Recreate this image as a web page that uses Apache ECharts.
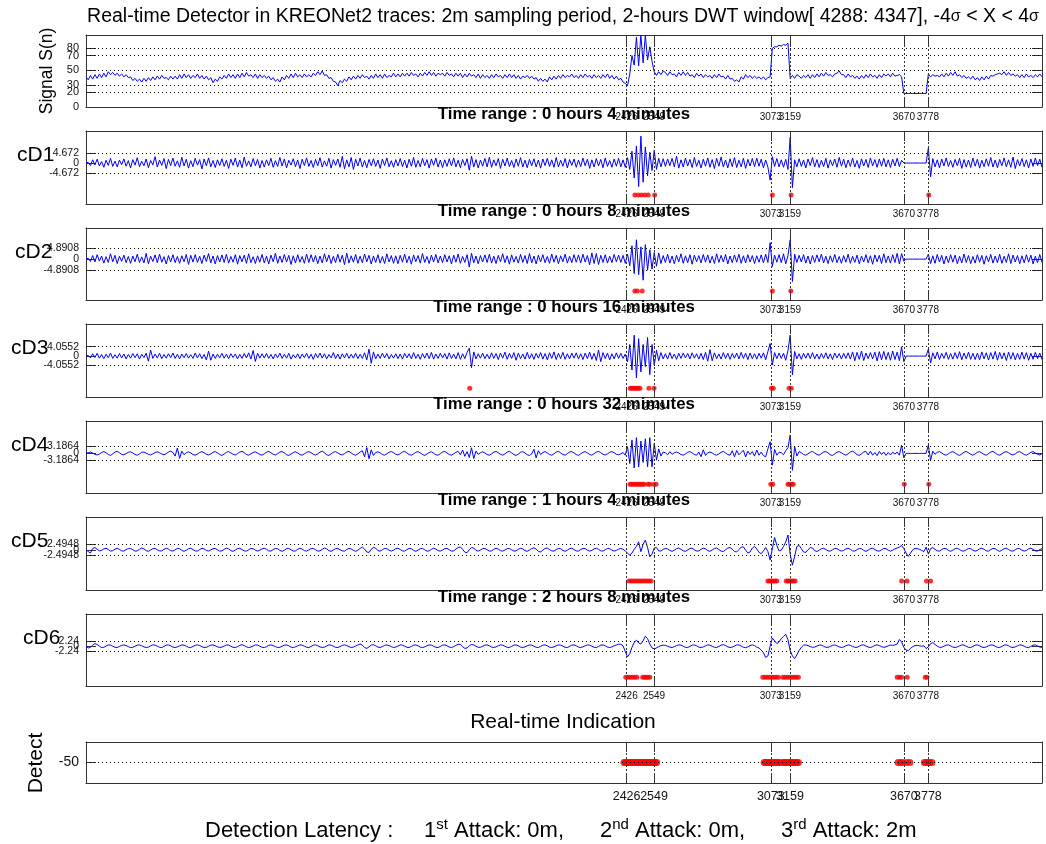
<!DOCTYPE html>
<html><head><meta charset="utf-8">
<script src="https://cdn.jsdelivr.net/npm/echarts@6/dist/echarts.min.js"></script>
<style>html,body{margin:0;padding:0;background:#fff}#c{width:1046px;height:844px}</style>
</head><body><div id="c"></div>
<script>
// ---------------- DATA ----------------
const STEP = 10;                       // sample spacing (time index) of the traces below
const X_MIN = 0, X_MAX = 4290;
const EVENTS = [2426, 2549, 3073, 3159, 3670, 3778];
const SIGNAL_TICKS = [0, 20, 30, 50, 70, 80];
const SIGNAL_GRID = [20, 30, 50, 70, 80];
const THRESH = [4.672, 4.8908, 4.0552, 3.1864, 2.4948, 2.24];
const DOT_LEVEL = [-15, -14.3, -13.8, -13.7, -14.2, -14.4];
const DETECT_LEVEL = -50;
const PANEL_NAMES = ['cD1', 'cD2', 'cD3', 'cD4', 'cD5', 'cD6'];
const PANEL_TITLES = ['Time range : 0 hours 4 mimutes', 'Time range : 0 hours 8 mimutes', 'Time range : 0 hours 16 mimutes',
  'Time range : 0 hours 32 mimutes', 'Time range : 1 hours 4 mimutes', 'Time range : 2 hours 8 mimutes'];

const signal = [
41,37,43,38,44,39,45,40,46,41,48,44,47,43,46,42,45,41,44,40,
41,36,39,35,38,34,39,35,40,36,41,37,42,38,43,39,40,37,42,38,
42,38,44,39,45,40,44,39,43,40,45,39,43,38,42,37,40,33,38,35,
41,38,43,39,45,40,44,39,45,40,46,41,47,42,44,40,45,39,44,40,
43,39,42,37,40,35,38,34,41,37,43,39,45,40,46,41,44,40,45,41,
44,41,46,43,48,44,49,43,44,39,40,35,34,29,36,33,38,35,41,37,
42,38,43,39,44,40,42,38,43,39,45,40,44,39,45,40,43,41,46,41,
45,41,46,42,46,42,47,43,45,41,46,42,47,43,48,43,47,42,46,44,
46,42,47,43,45,41,46,42,46,40,45,41,46,42,44,40,45,39,44,40,
43,39,44,40,45,41,43,39,44,40,45,40,44,39,43,38,42,40,43,39,
42,38,40,35,39,35,38,34,41,37,42,38,43,39,44,40,43,41,45,40,
43,39,44,40,45,41,43,39,44,40,43,39,44,40,45,39,43,38,42,37,
39,34,32,29,45,70,57,95,56,98,60,98,64,82,62,48,43,48,44,49,
47,43,48,44,45,41,47,43,48,43,47,42,44,40,46,42,45,40,44,41,
43,39,44,40,45,41,42,38,43,38,39,35,37,34,41,38,44,40,43,39,
42,39,41,38,41,37,40,41,80,82,82,84,83,85,84,87,39,43,39,44,
42,39,43,40,44,39,44,40,45,41,46,42,47,43,44,41,45,46,49,44,
44,40,45,41,43,39,42,38,43,39,44,40,45,41,43,39,44,40,45,42,
45,41,46,42,43,44,41,18.4,18.4,18.4,18.4,18.4,18.4,18.4,18.4,18.4,18.4,18.4,45,41,
44,42,43,41,45,41,46,42,47,43,48,42,44,40,43,39,41,38,42,37,
40,36,41,37,42,38,43,42,44,45,46,44,48,43,47,43,45,42,44,40,
44,40,45,41,43,40,44,41,45,41];

const cD1 = [
0,0.3,-1.2,1.5,-0.9,1.8,-1.4,0.7,-2.0,1.3,-1.1,2.2,-1.6,0.9,-1.8,1.4,-0.8,1.9,-1.5,1.1,
-2.3,1.6,-1.0,2.5,-1.7,0.8,-1.3,1.9,-2.2,1.2,-0.9,3.0,-1.9,1.4,-1.1,2.1,-2.6,1.7,-1.2,2.3,
-1.5,1.0,-2.0,2.7,-1.4,1.8,-2.4,1.1,-1.7,2.2,-1.0,1.6,-2.8,1.9,-1.3,2.4,-1.8,1.2,-2.1,1.5,
-1.2,2.0,-1.6,1.3,-2.5,1.8,-1.1,2.3,-1.9,1.4,-2.2,2.8,-1.5,1.0,-1.8,2.1,-1.3,1.7,-2.4,1.2,
-1.9,1.5,-1.2,2.2,-2.0,1.1,-1.6,2.6,-1.4,1.9,-2.3,1.3,-1.0,2.0,-1.7,1.4,-2.6,1.8,-1.2,2.4,
-1.6,1.2,-2.1,1.7,-1.3,2.5,-1.9,1.0,-1.5,2.2,-2.4,1.6,-1.1,1.9,-2.0,3.1,-2.7,1.5,-1.8,2.6,
-3.0,1.8,-1.4,2.3,-1.9,1.2,-2.2,1.7,-1.3,2.0,-1.6,1.4,-2.5,1.9,-1.2,2.4,-1.8,1.1,-2.0,1.6,
-1.4,2.1,-1.7,1.3,-2.3,1.8,-1.5,2.6,-2.0,1.2,-1.8,2.2,-1.3,1.6,-2.4,1.9,-1.1,2.3,-1.9,1.4,
-2.1,1.5,-1.6,2.0,-1.4,2.4,-1.8,1.3,-2.2,1.7,-1.2,2.0,-3.4,3.2,-1.9,1.6,-2.3,1.4,-1.5,2.2,
-1.8,2.7,-2.0,1.5,-1.3,2.1,-2.5,1.8,-1.4,2.3,-1.7,1.2,-2.1,1.9,-1.5,2.5,-1.9,1.3,-2.2,1.7,
-1.3,2.0,-1.8,1.4,-2.4,1.9,-1.2,2.2,-1.6,1.5,-2.0,2.6,-1.8,1.3,-1.5,2.1,-2.3,1.6,-1.1,1.9,
-2.0,1.4,-1.7,2.3,-1.3,1.8,-2.5,1.5,-1.9,2.1,-1.4,1.7,-2.2,2.4,-1.6,1.2,-2.0,1.9,-1.5,2.2,
-1.8,1.5,-2.0,2.5,-3.0,5.5,-7.0,8.0,-11.0,12.6,-9.0,7.5,-6.0,5.0,-3.5,6.0,-3.0,2.2,-1.8,2.0,
-1.6,1.9,-1.3,2.2,-1.8,3.2,-2.4,1.5,-1.9,2.3,-1.4,1.7,-2.1,2.6,-1.6,1.3,-2.3,1.8,-1.5,2.4,
-2.0,1.6,-2.6,2.2,-1.5,2.8,-1.9,1.4,-2.3,2.0,-1.7,2.5,-2.1,1.3,-1.8,2.2,-2.5,1.7,-1.4,2.1,
-1.7,2.3,-1.5,1.8,-2.2,1.4,-1.9,-8.0,3.0,-1.6,2.1,-1.8,1.5,-2.0,1.7,-3.0,12.0,-11.5,1.5,-1.8,
2.0,-1.6,1.4,-2.3,1.9,-1.2,2.5,-1.8,1.6,-2.1,1.3,-1.7,2.2,-2.4,1.5,-1.3,1.9,-2.0,2.6,-1.5,
1.8,-2.2,1.4,-1.6,2.3,-1.9,1.2,-2.5,2.0,-1.4,1.7,-2.1,2.4,-1.3,1.6,-2.0,1.9,-1.5,2.2,-1.8,
1.5,-2.1,1.8,-1.4,2.2,-1.7,1.3,0,0,0,0,0,0,0,0,0,0,0,7.0,-6.5,
2.1,-1.8,1.5,-2.3,1.9,-1.4,2.4,-1.6,1.2,-2.0,1.7,-1.3,2.2,-2.5,1.6,-1.9,1.4,-2.1,2.3,-1.5,
1.8,-2.4,1.3,-1.7,2.0,-1.5,2.6,-1.9,1.4,-2.2,1.7,-1.3,2.4,-1.8,1.5,-2.0,2.8,-2.6,1.6,-1.4,
2.1,-1.7,1.5,-2.3,1.9,-1.6,2.4,-1.2,1.8,-2.0];

const cD2 = [
0,0.4,-1.1,1.6,-1.3,2.0,-0.9,1.4,-1.8,1.1,-1.5,2.4,-1.2,1.7,-2.0,1.3,-1.0,1.8,-1.6,1.2,
-1.9,1.4,-1.2,2.2,-1.5,1.0,-1.7,2.6,-2.1,1.3,-1.1,1.9,-1.6,2.3,-1.4,1.1,-2.2,1.6,-1.3,2.0,
-1.6,1.2,-1.9,1.5,-1.2,2.1,-2.4,1.7,-1.3,2.0,-1.5,1.3,-2.0,1.8,-1.1,2.5,-1.7,1.4,-2.2,1.6,
-1.3,1.9,-1.5,2.2,-1.8,1.2,-1.4,2.0,-2.3,1.6,-1.2,1.8,-1.9,2.4,-1.6,1.1,-2.0,1.5,-1.4,2.1,
-1.7,1.3,-2.2,1.8,-1.2,2.6,-1.9,1.4,-1.5,2.1,-1.3,1.7,-2.4,1.5,-1.8,2.0,-1.4,1.2,-1.9,2.3,
-1.5,2.0,-1.3,1.6,-2.1,1.4,-1.7,2.4,-1.2,1.9,-2.0,1.3,-1.6,2.2,-1.4,1.8,-2.5,2.7,-1.8,1.5,
-1.4,2.1,-1.9,1.3,-1.6,2.3,-1.2,1.7,-2.2,1.4,-1.5,2.0,-1.8,1.2,-2.0,2.4,-1.3,1.6,-1.9,1.5,
-2.1,1.7,-1.4,2.2,-1.6,1.3,-2.3,1.9,-1.2,1.6,-1.8,2.5,-1.5,1.2,-2.0,1.8,-1.3,2.1,-1.7,1.4,
-1.6,2.0,-1.3,1.5,-2.2,1.8,-1.4,2.3,-1.9,1.2,-1.5,2.0,-3.6,2.6,-1.7,1.4,-2.1,1.6,-1.3,1.9,
-1.5,2.2,-1.8,1.3,-2.0,1.7,-1.2,2.4,-1.6,1.5,-2.3,1.9,-1.4,1.2,-1.8,2.1,-1.5,1.6,-2.0,2.5,
-1.7,1.4,-2.2,1.8,-1.3,2.0,-1.6,1.2,-1.9,2.3,-1.4,1.7,-2.1,1.5,-1.2,2.2,-1.8,1.3,-1.6,2.0,
-1.4,1.9,-1.7,2.2,-1.3,1.6,-2.6,2.8,-2.0,2.5,-2.4,1.7,-1.5,2.0,-1.8,1.3,-1.6,2.1,-1.2,1.8,
-1.5,1.7,-1.9,2.3,-3.0,6.0,-6.5,8.7,-7.0,5.5,-9.5,6.5,-5.0,4.2,-4.5,3.0,-3.2,2.8,-2.0,1.6,
-1.5,2.2,-1.8,1.4,-2.1,1.7,-1.3,2.4,-1.9,1.5,-1.6,2.0,-2.3,1.8,-1.2,1.6,-1.7,2.1,-1.4,1.9,
-1.8,1.3,-2.0,2.4,-1.5,1.7,-1.3,2.1,-2.2,1.4,-1.6,1.9,-1.4,2.2,-1.9,1.5,-1.7,2.0,-1.3,1.6,
-2.0,1.5,-1.4,1.9,-1.7,2.2,-1.5,7.4,-3.3,1.8,-1.4,2.0,-1.6,2.4,-2.1,1.5,8.7,-10.1,2.2,-1.5,
1.7,-1.3,2.0,-1.8,1.4,-2.2,1.6,-1.5,1.9,-1.2,2.3,-1.7,1.3,-2.0,1.5,-1.4,2.1,-1.6,1.2,-1.9,
1.6,-1.4,2.2,-1.9,1.3,-1.5,1.8,-2.1,1.4,-1.3,2.0,-1.7,1.5,-2.3,1.9,-1.2,1.7,-2.0,2.4,-1.6,
1.4,-1.8,2.0,-1.5,2.6,-2.2,2.5,-1.0,0,0,0,0,0,0,0,0,0,0,2.2,-2.0,
1.5,-1.9,2.1,-1.3,1.7,-2.2,1.4,-1.6,2.0,-1.4,1.8,-2.1,1.3,-1.7,2.3,-1.5,1.6,-2.0,1.2,-1.8,
2.0,-1.4,1.7,-2.3,1.5,-1.2,2.1,-1.8,1.4,-1.6,2.2,-1.9,1.3,-1.5,2.4,-2.0,1.8,-1.3,1.6,-2.1,
1.5,-1.7,2.0,-1.4,1.8,-2.2,1.3,-1.6,2.1,-1.5];

const cD3 = [
0,0.3,-0.8,1.0,-0.6,1.2,-0.9,0.7,-1.1,0.8,-0.7,1.3,-1.0,0.6,-0.9,1.1,-0.8,0.9,-1.2,0.7,
-0.9,1.1,-0.7,1.0,-1.3,0.8,-0.6,1.2,-2.2,2.6,-1.0,0.9,-0.8,1.2,-1.1,0.7,-0.9,1.0,-0.7,1.3,
-1.0,0.8,-1.2,0.9,-0.7,1.1,-0.9,0.6,-1.0,1.3,-0.8,1.0,-1.1,0.7,-1.6,2.1,-1.8,0.9,-1.0,0.8,
-0.7,1.2,-0.9,0.8,-1.1,1.0,-0.6,0.9,-1.2,0.7,-1.0,1.1,-0.8,1.4,-1.3,2.4,-2.3,1.2,-0.9,1.0,
-0.8,1.1,-1.0,0.7,-1.2,0.9,-0.7,1.3,-1.0,0.8,-0.9,1.2,-1.3,0.6,-0.8,1.0,-1.1,0.9,-0.7,1.2,
-1.0,0.8,-1.4,1.1,-0.7,1.3,-0.9,1.0,-1.2,0.7,-0.8,1.5,-1.1,0.9,-1.3,1.0,-0.8,1.2,-1.0,0.8,
-0.9,1.2,-1.1,0.8,-1.0,1.4,-1.6,3.0,-3.1,1.8,-1.2,0.9,-1.0,1.3,-0.8,1.1,-1.2,0.7,-0.9,1.0,
-1.1,0.9,-1.3,1.2,-0.8,1.0,-1.2,1.5,-1.0,0.8,-1.4,1.1,-0.9,1.3,-1.1,1.6,-1.3,0.9,-1.0,1.2,
-0.8,1.1,-1.3,1.4,-1.0,0.9,-1.2,1.5,-1.4,1.0,-1.1,1.6,3.4,-5.0,1.8,-1.2,1.0,-0.9,1.3,-1.1,
0.8,-1.2,1.4,-1.0,1.1,-1.5,1.3,-0.9,1.7,-1.4,1.2,-1.0,1.5,-1.8,1.3,-1.1,0.9,-1.3,1.6,-1.2,
1.0,-1.4,1.2,-0.9,1.5,-1.3,1.1,-1.6,1.4,-1.0,1.8,-1.5,1.2,-1.1,1.6,-1.4,1.0,-1.2,1.3,-0.9,
1.4,-1.2,1.0,-1.5,1.3,-1.1,1.7,-1.4,1.2,-1.9,2.6,-2.4,1.5,-1.1,1.3,-1.6,1.0,-1.2,1.4,-1.0,
1.2,-1.0,0.9,-2.5,5.0,-6.0,9.0,-9.4,7.5,-6.8,5.0,-4.5,8.0,-8.0,5.0,-4.0,2.5,-2.0,1.5,-1.2,
1.0,-1.3,1.5,-1.1,0.9,-1.4,1.2,-1.0,1.3,-0.8,1.1,-1.2,1.4,-0.9,1.0,-1.3,1.2,-1.5,1.6,-2.2,
2.8,-2.0,1.4,-1.1,0.9,-1.3,1.5,-1.0,1.2,-1.4,1.1,-0.9,1.3,-1.2,1.6,-1.0,1.2,-1.5,1.3,-1.1,
1.0,-1.3,1.2,-0.9,1.4,-1.6,2.0,5.4,-3.8,1.5,-1.1,1.3,-1.0,1.2,-1.8,2.4,9.0,-8.1,2.0,-1.2,
1.0,-1.4,1.2,-0.9,1.3,-1.1,1.5,-1.2,0.9,-1.3,1.1,-1.0,1.4,-1.2,1.0,-1.5,1.3,-0.8,1.1,-1.3,
1.2,-1.0,1.4,-1.3,1.8,-2.0,1.6,-1.4,2.2,-1.9,1.3,-1.1,1.5,-1.2,1.7,-2.1,1.9,-1.6,2.0,-1.5,
1.6,-1.8,2.2,-1.5,1.7,-2.0,4.0,-2.4,0,0,0,0,0,0,0,0,0,0,3.0,-3.0,
1.4,-1.2,1.8,-1.5,1.2,-1.0,1.6,-1.4,1.1,-1.3,1.5,-1.1,1.9,-1.6,1.3,-1.2,1.7,-1.4,1.2,-1.5,
1.3,-1.6,1.8,-1.2,1.4,-1.7,1.5,-1.3,2.0,-1.8,1.6,-1.2,1.4,-1.9,1.7,-1.3,1.5,-1.6,1.2,-1.4,
1.7,-1.3,1.5,-1.8,1.2,-1.4,1.6,-1.1,1.3,-1.5];

const cD4 = [
0,0.3,0.6,0.2,-0.4,-0.7,-0.3,0.4,0.8,0.3,-0.5,-0.9,-0.2,0.6,0.9,0.3,-0.4,-0.6,-0.1,0.5,
0.7,0.2,-0.5,-0.8,-0.2,0.5,0.6,0.1,-0.4,-0.7,-0.2,0.4,0.7,0.3,-0.3,-0.6,-0.1,0.6,1.0,0.4,
-1.2,2.4,-2.2,1.0,-0.6,0.3,0.7,0.2,-0.5,-0.8,-0.3,0.4,0.8,0.3,-0.4,-0.7,-0.2,0.5,0.8,0.2,
-0.5,-0.9,-0.3,0.5,0.8,0.2,-0.4,-0.7,-0.1,0.6,0.9,0.3,-0.5,-0.8,-0.2,0.4,0.7,0.1,-0.5,-0.8,
-0.2,0.5,0.9,0.3,-0.4,-0.7,-0.1,0.6,0.8,0.2,-0.6,-0.9,-0.3,0.4,0.7,0.2,-0.5,-0.8,-0.2,0.5,
0.8,0.3,-0.4,-0.7,-0.2,0.6,1.0,0.3,-0.6,-0.9,-0.2,0.5,0.8,0.2,-0.4,-0.7,-0.1,0.6,0.9,0.2,
-0.5,-0.8,-0.2,0.6,1.2,-1.5,2.6,-2.4,1.6,-0.9,0.4,0.7,0.2,-0.5,-0.8,-0.2,0.5,0.8,0.3,-0.4,
-0.7,-0.1,0.6,0.9,0.2,-0.5,-0.8,-0.2,0.5,0.8,0.2,-0.5,-0.9,-0.3,0.4,0.7,0.1,-0.6,-0.8,-0.1,
0.6,0.9,0.2,-0.5,-0.8,-0.2,0.5,0.9,-0.6,1.5,-1.3,0.8,-1.8,2.5,-2.3,1.0,-0.4,0.3,0.7,0.2,
-0.5,-0.8,-0.2,0.5,0.9,0.3,-0.4,-0.8,-0.2,0.6,0.9,0.2,-0.5,-0.9,-0.3,0.5,0.8,0.2,-0.6,-0.9,
-0.2,1.8,-2.0,1.2,-0.5,0.4,0.8,0.2,-0.5,-0.8,-0.2,0.6,0.9,0.2,-0.5,-0.8,-0.1,0.6,0.8,0.2,
-0.5,-0.9,-0.2,0.5,0.8,0.2,-0.5,-0.8,-0.1,0.6,0.9,0.3,-0.4,-0.7,-0.2,0.5,0.8,0.3,-0.4,-0.6,
-0.2,0.4,-0.8,3.0,-4.5,6.0,-6.5,7.0,-6.0,5.5,-4.0,6.5,-6.0,7.0,-6.0,4.5,-3.0,2.0,-1.2,0.6,
0.3,-0.6,0.8,-0.4,0.3,0.6,0.2,-0.5,-0.8,-0.2,0.5,0.8,0.2,-0.5,-0.8,0.6,-1.5,1.6,-0.9,0.3,
0.6,0.2,-0.5,-0.8,-0.2,0.5,0.9,0.2,-0.5,-0.8,1.2,-1.5,1.3,-0.6,0.4,1.4,-1.6,1.0,-0.5,0.8,
-1.2,1.5,-0.8,0.6,-1.0,-1.5,2.0,5.2,-5.2,1.8,-0.8,0.5,0.3,-0.6,1.2,2.5,8.2,-7.5,3.0,-1.2,
0.8,0.3,-0.5,-0.8,-0.2,0.5,0.9,0.2,-0.5,-0.8,-0.1,0.6,0.8,0.2,-0.6,-0.9,-0.2,0.5,0.8,0.3,
-0.4,-0.8,-0.2,0.6,1.0,0.3,-0.5,-0.9,-0.2,0.6,0.9,-0.7,1.0,-0.8,0.4,-1.0,0.9,-0.5,0.6,-0.9,
0.4,-0.7,0.5,-0.3,0.6,-0.8,3.7,-2.0,0,0,0,0,0,0,0,0,0,0,3.7,-3.0,
1.0,-0.4,0.5,0.8,0.2,-0.5,-0.8,-0.2,0.5,0.8,0.2,-0.5,-0.9,-0.2,0.5,0.9,0.3,-0.4,-0.8,-0.2,
0.5,0.8,0.2,-0.5,-0.8,-0.1,0.6,0.9,0.2,-0.5,-0.8,-0.2,0.5,0.8,0.3,-0.4,-0.7,-0.2,0.5,0.8,
0.2,-0.5,-0.8,-0.2,0.5,0.8,0.2,-0.4,-0.7,-0.1];

const cD5 = [
0,-0.8,-1.5,0.6,1.0,0.2,-0.5,-0.3,0.4,0.7,0.1,-0.6,-0.4,0.3,0.6,0.2,-0.5,-0.6,0.1,0.5,
0.6,0.0,-0.6,-0.5,0.2,0.8,0.4,-0.4,-0.7,-0.1,0.5,0.6,0.0,-0.5,-0.5,0.2,0.7,0.3,-0.4,-0.6,
0.0,0.6,0.5,-0.3,-0.7,-0.2,0.5,0.7,0.1,-0.5,-0.6,0.1,0.6,0.4,-0.3,-0.6,-0.1,0.5,0.6,0.0,
-0.6,-0.5,0.2,0.7,0.4,-0.4,-0.7,-0.1,0.5,0.7,0.1,-0.5,-0.6,0.0,0.6,0.5,-0.2,-0.6,-0.2,0.4,
0.7,0.2,-0.5,-0.6,0.1,0.6,0.5,-0.3,-0.7,-0.2,0.5,0.6,0.0,-0.6,-0.5,0.2,0.7,0.3,-0.4,-0.6,
-0.1,0.5,0.6,0.0,-0.6,-0.5,0.2,0.8,0.4,-0.4,-0.7,-0.1,0.5,0.6,0.0,-0.5,-0.6,0.1,0.6,0.4,
-0.3,-0.7,-0.2,0.6,1.2,0.3,-1.0,-1.2,0.2,1.1,0.7,-0.4,-0.6,0.0,0.6,0.5,-0.2,-0.6,-0.2,0.5,
0.7,0.1,-0.5,-0.6,0.1,0.6,0.5,-0.3,-0.7,-0.2,0.5,0.6,0.0,-0.6,-0.5,0.2,0.7,0.3,-0.4,-0.6,
-0.1,0.5,0.6,0.0,-0.6,-0.5,0.3,1.0,1.3,0.2,-1.1,-1.3,0.0,1.0,0.8,-0.3,-0.6,-0.1,0.5,0.6,
0.0,-0.6,-0.5,0.2,0.7,0.3,-0.4,-0.6,-0.1,0.5,0.6,0.0,-0.6,-0.5,0.2,0.7,0.4,-0.4,-0.7,-0.1,
0.5,0.9,0.3,-0.7,-1.0,-0.2,0.6,0.8,0.1,-0.5,-0.6,0.1,0.6,0.5,-0.3,-0.7,-0.2,0.5,0.7,0.1,
-0.5,-0.6,0.1,0.6,0.5,-0.2,-0.6,-0.3,0.4,0.7,0.2,-0.5,-0.6,0.0,0.6,0.5,-0.2,-0.6,-0.3,0.3,
0.6,0.2,-0.5,-1.5,-2.4,-1.5,0.2,1.5,3.6,-0.9,2.5,4.4,1.0,-3.2,-2.0,0.8,1.0,-0.5,-0.6,0.2,
0.6,0.4,-0.3,-0.7,-0.2,0.5,0.8,0.2,-0.5,-0.7,-0.1,0.6,0.7,0.0,-0.6,-0.5,0.2,0.8,0.4,-0.4,
-0.7,-0.1,0.6,0.8,0.1,-0.6,-0.8,0.0,0.8,1.0,0.2,-0.8,-1.0,0.1,1.2,1.3,-0.2,-1.5,-1.0,0.8,
1.5,0.4,-1.2,-1.8,-0.5,1.0,-0.8,-4.7,0.5,5.6,2.0,-0.5,-0.2,1.5,3.5,6.7,-2.0,-7.0,-3.0,1.5,
2.0,0.5,-1.0,-1.2,0.0,1.0,0.8,-0.4,-0.8,-0.2,0.5,0.7,0.1,-0.5,-0.6,0.0,0.6,0.5,-0.2,-0.6,
-0.3,0.4,0.7,0.2,-0.5,-0.6,0.1,0.6,0.5,-0.3,-0.7,-0.2,0.5,0.7,0.1,-0.5,-0.6,0.0,0.6,0.5,
-0.2,-0.6,-0.2,0.4,0.8,1.2,2.0,0.5,-1.5,-3.0,-1.5,0.0,0.6,0.5,0.2,-0.3,-0.8,1.2,-2.0,0.5,
1.0,0.2,-0.5,-0.6,0.1,0.6,0.5,-0.3,-0.7,-0.2,0.5,0.7,0.1,-0.5,-0.6,0.0,0.6,0.5,-0.2,-0.6,
-0.3,0.4,0.7,0.2,-0.5,-0.6,0.1,0.6,0.5,-0.3,-0.7,-0.2,0.5,0.7,0.1,-0.5,-0.6,0.0,0.6,0.5,
-0.2,-0.6,-0.3,0.4,0.7,0.2,-0.5,-0.6,0.1,0.5];

const cD6 = [
0,-0.8,-0.5,0.5,1.2,0.8,0.0,-0.6,-0.5,0.1,0.6,0.5,0.0,-0.5,-0.6,-0.1,0.4,0.6,0.3,-0.2,
-0.6,-0.5,0.0,0.5,0.6,0.2,-0.3,-0.6,-0.4,0.2,0.6,0.5,0.0,-0.5,-0.6,-0.1,0.5,0.6,0.2,-0.4,
-0.6,-0.3,0.2,0.6,0.5,0.0,-0.5,-0.6,-0.1,0.4,0.6,0.3,-0.2,-0.6,-0.5,0.0,0.5,0.6,0.2,-0.3,
-0.6,-0.4,0.1,0.6,0.5,0.0,-0.5,-0.6,-0.2,0.4,0.7,0.3,-0.3,-0.6,-0.4,0.1,0.6,0.5,0.0,-0.5,
-0.6,-0.2,0.4,0.6,0.3,-0.2,-0.6,-0.5,0.0,0.5,0.6,0.2,-0.4,-0.6,-0.3,0.2,0.6,0.5,0.0,-0.5,
-0.6,-0.1,0.5,0.6,0.2,-0.3,-0.6,-0.4,0.1,0.6,0.5,0.0,-0.5,-0.6,-0.2,0.4,0.6,0.3,-0.2,-0.6,
-0.4,0.1,0.6,1.0,0.5,-0.6,-1.0,-0.3,0.5,0.7,0.2,-0.4,-0.6,-0.2,0.4,0.6,0.3,-0.2,-0.6,-0.4,
0.1,0.6,0.5,0.0,-0.5,-0.6,-0.1,0.5,0.6,0.2,-0.4,-0.6,-0.3,0.2,0.6,0.5,0.0,-0.5,-0.6,-0.1,
0.5,0.6,0.2,-0.4,-0.6,-0.2,0.4,0.9,0.8,-0.2,-1.0,-0.8,0.2,0.8,0.6,0.0,-0.5,-0.5,0.0,0.5,
0.6,0.2,-0.4,-0.6,-0.3,0.2,0.6,0.5,0.0,-0.5,-0.6,-0.1,0.5,0.6,0.2,-0.4,-0.6,-0.3,0.2,0.6,
0.5,0.0,-0.5,-0.6,-0.1,0.5,0.6,0.2,-0.4,-0.6,-0.3,0.2,0.6,0.5,0.0,-0.5,-0.6,-0.1,0.5,0.6,
0.2,-0.4,-0.6,-0.3,0.2,0.6,0.5,0.0,-0.5,-0.6,-0.1,0.5,0.6,0.2,-0.4,-0.6,-0.3,0.2,0.6,0.9,
0.9,0.2,-2.5,-4.9,-3.5,-0.5,1.8,2.8,1.5,1.0,2.5,4.6,3.5,1.0,-0.8,-1.2,-0.8,-0.2,0.3,0.5,
0.4,0.0,-0.4,-0.6,-0.2,0.3,0.6,0.5,0.0,-0.5,-0.6,-0.1,0.5,0.6,0.2,-0.4,-0.6,-0.3,0.2,0.6,
0.5,0.0,-0.5,-0.6,-0.1,0.5,0.7,0.3,-0.3,-0.6,-0.4,0.1,0.6,0.6,0.1,-0.5,-0.7,-0.3,0.3,0.6,
0.3,-0.4,-0.8,-1.8,-3.0,-5.2,-4.5,0.0,3.8,2.5,1.2,2.0,3.5,4.5,5.5,3.0,-2.0,-4.5,-5.7,-4.0,
-2.0,-0.5,0.5,0.6,0.3,-0.2,-0.5,-0.4,0.1,0.5,0.5,0.0,-0.5,-0.5,-0.1,0.4,0.6,0.2,-0.3,-0.6,
-0.3,0.2,0.6,0.4,-0.1,-0.5,-0.5,0.0,0.5,0.6,0.1,-0.4,-0.6,-0.2,0.4,0.6,0.3,-0.2,-0.5,-0.3,
0.2,0.5,0.4,0.6,1.0,3.1,2.0,-0.5,-1.8,-2.0,-1.0,-0.2,0.3,0.4,0.2,0.0,0.2,-1.1,-0.3,1.2,
1.7,0.8,0.0,-0.5,-0.5,0.0,0.5,0.6,0.2,-0.4,-0.6,-0.3,0.2,0.6,0.5,0.0,-0.5,-0.6,-0.1,0.5,
0.6,0.2,-0.4,-0.6,-0.3,0.2,0.6,0.5,0.0,-0.5,-0.6,-0.1,0.5,0.6,0.2,-0.4,-0.6,-0.3,0.2,0.6,
0.5,0.0,-0.5,-0.6,-0.1,0.5,0.6,0.2,-0.4,-0.5];

// detection instants (time index) flagged in each band and in the final indication
const det1 = [2463, 2478, 2493, 2508, 2523, 2552, 3080, 3164, 3782];
const det2 = [2463, 2474, 2496, 3080, 3163];
const det3 = [1722, 2442, 2449, 2456, 2463, 2470, 2478, 2486, 2526, 2549, 3076, 3084, 3155, 3165];
const det4 = [2441, 2449, 2457, 2465, 2473, 2481, 2489, 2497, 2505, 2522, 2530, 2548, 2558, 3073, 3082, 3150, 3158, 3166, 3174, 3672, 3782];
const det5 = [2436, 2446, 2456, 2466, 2476, 2486, 2496, 2506, 2516, 2526, 2536, 3060, 3068, 3076, 3084, 3092, 3100,
  3142, 3150, 3158, 3166, 3174, 3182, 3660, 3684, 3772, 3790];
const det6 = [2422, 2432, 2442, 2452, 2462, 2472, 2498, 2506, 2514, 2522, 2530, 3037, 3047, 3057, 3067, 3077, 3087, 3097, 3107,
  3127, 3137, 3147, 3157, 3167, 3177, 3187, 3197, 3640, 3650, 3660, 3685, 3766, 3774];
const detAll = [2414, 2421, 2428, 2435, 2442, 2449, 2456, 2463, 2470, 2477, 2484, 2491, 2498, 2505, 2512, 2519, 2526, 2533, 2540, 2547, 2554, 2561,
  3043, 3050, 3057, 3064, 3071, 3078, 3085, 3092, 3099, 3106, 3113,
  3127, 3134, 3141, 3148, 3155, 3162, 3169, 3176, 3183, 3190, 3197,
  3644, 3655, 3666, 3684, 3697, 3762, 3770, 3778, 3786, 3796];

// ---------------- LAYOUT ----------------
const FONT = "'Liberation Sans', Arial, Helvetica, sans-serif";
const LEFT = 86, RIGHT = 4;
const PANELS = [
  { top: 35,  h: 72, ymin: 0,     ymax: 98 },
  { top: 131, h: 73, ymin: -19.2, ymax: 15 },
  { top: 228, h: 72, ymin: -18.4, ymax: 14 },
  { top: 324, h: 73, ymin: -17.6, ymax: 13.8 },
  { top: 421, h: 72, ymin: -17.6, ymax: 14.4 },
  { top: 517, h: 73, ymin: -18.3, ymax: 14.9 },
  { top: 614, h: 72, ymin: -18.4, ymax: 14.9 },
  { top: 742, h: 41, ymin: -100,  ymax: 0 }
];
const NAME_X = [17, 15, 11, 11, 11, 23];

const traces = [signal, cD1, cD2, cD3, cD4, cD5, cD6];
const dets = [det1, det2, det3, det4, det5, det6];

const AX = '#333';
const pick = (a, n, r) => a.filter((_, k) => k % n === r);
const grid = [], xAxis = [], yAxis = [], series = [];
PANELS.forEach((p, i) => {
  const last = i === 7;
  const yt = i === 0 ? SIGNAL_TICKS : (last ? [DETECT_LEVEL] : [-THRESH[i - 1], 0, THRESH[i - 1]]);
  const yg = i === 0 ? SIGNAL_GRID : (last ? [DETECT_LEVEL] : [-THRESH[i - 1], THRESH[i - 1]]);
  const lineS = { show: true, onZero: false, lineStyle: { color: AX, width: 1 } };
  const xLab = vals => ({ show: vals.length > 0, customValues: vals, margin: last ? 7 : 5, fontSize: last ? 12.5 : 10, color: '#111',
    fontFamily: FONT, hideOverlap: false, showMinLabel: true, showMaxLabel: true, formatter: v => String(v) });
  const yLab = vals => ({ show: vals.length > 0, customValues: vals, margin: 7, fontSize: last ? 14 : (i === 0 ? 11 : 10.5), color: '#111',
    fontFamily: FONT, hideOverlap: false, showMinLabel: true, showMaxLabel: true, formatter: v => String(v) });
  const tick = vals => ({ show: true, inside: true, length: 10, customValues: vals, lineStyle: { color: AX } });

  // main grid: frame, ticks and one share of the labels
  const g = grid.length;
  grid.push({ left: LEFT, right: RIGHT, top: p.top, height: p.h });
  const xi = xAxis.length, yi = yAxis.length;
  xAxis.push({ type: 'value', gridIndex: g, min: X_MIN, max: X_MAX, position: 'bottom', axisLine: lineS,
    axisTick: tick(EVENTS), axisLabel: xLab(pick(EVENTS, 2, 0)), splitLine: { show: false } });
  xAxis.push({ type: 'value', gridIndex: g, min: X_MIN, max: X_MAX, position: 'top', axisLine: lineS,
    axisTick: tick(EVENTS), axisLabel: { show: false }, splitLine: { show: false } });
  yAxis.push({ type: 'value', gridIndex: g, min: p.ymin, max: p.ymax, position: 'left', axisLine: lineS,
    axisTick: tick(yt), axisLabel: yLab(pick(yt, 3, 0)), splitLine: { show: false } });
  yAxis.push({ type: 'value', gridIndex: g, min: p.ymin, max: p.ymax, position: 'right', axisLine: lineS,
    axisTick: tick(yt), axisLabel: { show: false }, splitLine: { show: false } });

  const markLine = {
    silent: true, symbol: ['none', 'none'], label: { show: false }, animation: false,
    data: EVENTS.map(x => ({ xAxis: x, lineStyle: { type: [2, 2], color: '#333', width: 1 } }))
      .concat(yg.map(y => ({ yAxis: y, lineStyle: { type: [1, 3], color: '#000', width: 1 } })))
  };
  if (i < 7) {
    series.push({ type: 'line', xAxisIndex: xi, yAxisIndex: yi, showSymbol: false, silent: true, animation: false,
      lineStyle: { color: '#0000ff', width: 1 }, data: traces[i].map((v, k) => [k * STEP, v]), markLine, z: 3 });
  }
  if (i >= 1) {
    const d = last ? detAll : dets[i - 1];
    const lvl = last ? DETECT_LEVEL : DOT_LEVEL[i - 1];
    series.push({ type: 'scatter', xAxisIndex: xi, yAxisIndex: yi, silent: true, animation: false,
      symbolSize: last ? 7 : 5, itemStyle: { color: '#ff0000' }, data: d.map(x => [x, lvl]),
      markLine: last ? markLine : undefined, z: 4 });
  }
  // overlay grids (same box) carry the remaining labels, so close neighbouring labels are never dropped
  for (let r = 1; r <= 2; r++) {
    const go = grid.length;
    grid.push({ left: LEFT, right: RIGHT, top: p.top, height: p.h });
    const oxi = xAxis.length, oyi = yAxis.length;
    xAxis.push({ type: 'value', gridIndex: go, min: X_MIN, max: X_MAX, position: 'bottom', axisLine: { show: false },
      axisTick: { show: false }, axisLabel: xLab(r === 1 ? pick(EVENTS, 2, 1) : []), splitLine: { show: false } });
    yAxis.push({ type: 'value', gridIndex: go, min: p.ymin, max: p.ymax, position: 'left', axisLine: { show: false },
      axisTick: { show: false }, axisLabel: yLab(pick(yt, 3, r)), splitLine: { show: false } });
    series.push({ type: 'line', xAxisIndex: oxi, yAxisIndex: oyi, data: [], silent: true, showSymbol: false });
  }
});

const graphic = [];
function txt(x, y, text, size, o = {}) {
  graphic.push({ type: 'text', x, y, rotation: o.rot || 0, silent: true, z: 100,
    style: { text, fontSize: size, fontFamily: FONT, fontWeight: o.bold ? 'bold' : 'normal', fill: '#000',
      align: o.align || 'center', verticalAlign: 'middle', rich: o.rich } });
}
// main title
txt(563, 17, '{t|Real-time Detector in KREONet2 traces: 2m sampling period, 2-hours DWT window[ 4288: 4347], -4}{g|σ}{t| < X < 4}{g|σ}', 19.5,
  { rich: { t: { fontSize: 19.5, fontFamily: FONT, fill: '#000' }, g: { fontSize: 16, fontFamily: FONT, fill: '#000' } } });
// panel titles and names
PANEL_TITLES.forEach((t, k) => txt(564, PANELS[k + 1].top - 17, t, 16.8, { bold: true }));
PANEL_NAMES.forEach((t, k) => txt(NAME_X[k], PANELS[k + 1].top + 24, t, 21, { align: 'left' }));
txt(47, 71, 'Signal S(n)', 17.5, { rot: Math.PI / 2 });
txt(36, 763, 'Detect', 21, { rot: Math.PI / 2 });
txt(563, 722, 'Real-time Indication', 21);
// latency line
const richL = { n: { fontSize: 22, fontFamily: FONT, fill: '#000', lineHeight: 27 },
  s: { fontSize: 15, fontFamily: FONT, fill: '#000', lineHeight: 15, verticalAlign: 'top' } };
txt(205, 831, '{n|Detection Latency :}', 22, { align: 'left', rich: richL });
txt(424, 831, '{n|1}{s|st}{n| Attack: 0m,}', 22, { align: 'left', rich: richL });
txt(600, 831, '{n|2}{s|nd}{n| Attack: 0m,}', 22, { align: 'left', rich: richL });
txt(781, 831, '{n|3}{s|rd}{n| Attack: 2m}', 22, { align: 'left', rich: richL });

const chart = echarts.init(document.getElementById('c'), null, { renderer: 'canvas' });
chart.setOption({ animation: false, backgroundColor: '#fff', grid, xAxis, yAxis, series, graphic });
</script></body></html>
